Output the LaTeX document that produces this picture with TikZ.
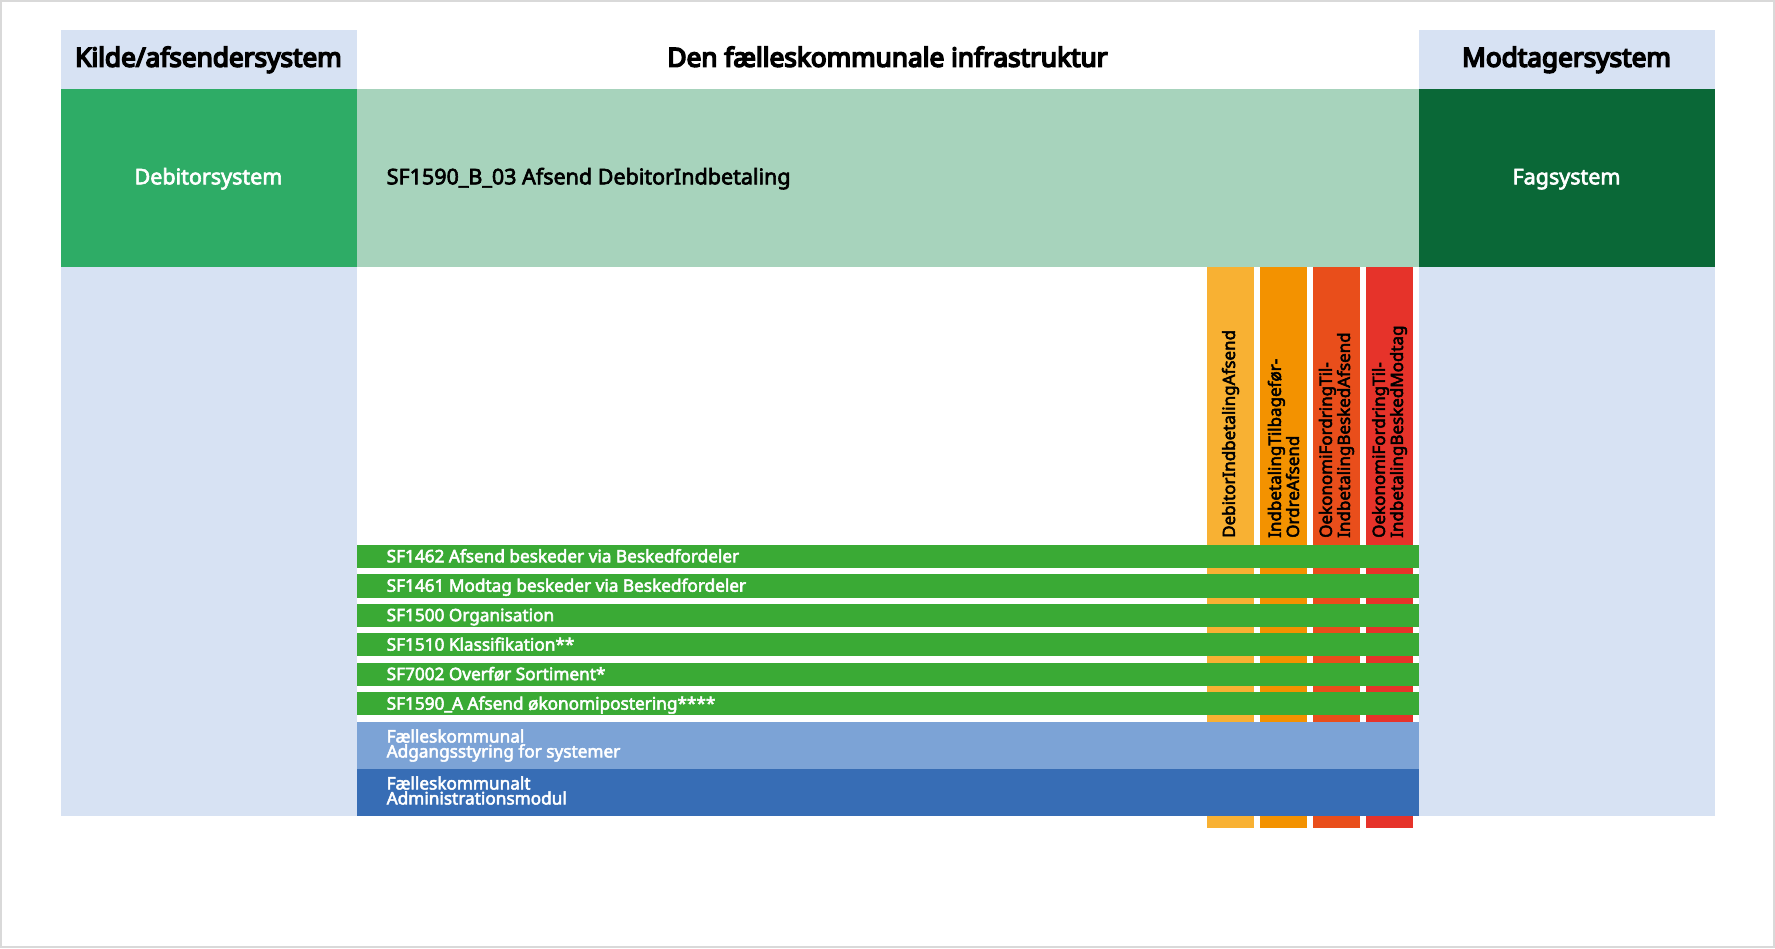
\documentclass[tikz,border=0pt]{standalone}
\usepackage{fontspec}
\setmainfont{Noto Sans}
\newfontfamily\medfont[FakeBold=3]{Noto Sans}
\newfontfamily\boldfont[FakeBold=6]{Noto Sans}
\usetikzlibrary{calc}
\definecolor{hdr}{HTML}{D7E2F3}
\definecolor{srcgreen}{HTML}{2EAC66}
\definecolor{lightgreen}{HTML}{A7D3BC}
\definecolor{darkgreen}{HTML}{0A6837}
\definecolor{vbA}{HTML}{F8B133}
\definecolor{vbB}{HTML}{F39200}
\definecolor{vbC}{HTML}{E94E1B}
\definecolor{vbD}{HTML}{E6332A}
\definecolor{sfgreen}{HTML}{3AAA35}
\definecolor{lblue}{HTML}{7CA3D6}
\definecolor{dblue}{HTML}{376DB5}
\definecolor{frame}{HTML}{D9D9D9}
\begin{document}
\begin{tikzpicture}[x=1pt,y=-1pt,
  box/.style 2 args={inner sep=0pt, outer sep=0pt, anchor=north west, draw=none, minimum width=#1, minimum height=#2},
  title/.style={inner sep=0pt, anchor=base, font=\fontsize{26.2}{30}\boldfont},
  sysname/.style={inner sep=0pt, anchor=base, text=white, font=\fontsize{21.5}{25}\medfont},
  bartext/.style={inner sep=0pt, anchor=base west, text=white, font=\fontsize{17.2}{20}\medfont},
  bluetext/.style={inner sep=0pt, anchor=west, text=white, align=left, font=\fontsize{17.2}{15}\medfont},
  vtext/.style={inner sep=0pt, anchor=west, rotate=90, align=left, font=\fontsize{17}{15}\medfont}
]
\useasboundingbox (0,0) rectangle (1775,948);
\fill[white] (0,0) rectangle (1775,948);
\draw[frame, line width=2pt] (1,1) rectangle (1774,947);

% header row
\node[box={295.5}{59}, fill=hdr] (lhead) at (61,30) {};
\node[box={295.5}{59}, fill=hdr] (rhead) at (1419,30) {};
\node[title] (tl) at (208.5,66.7) {Kilde/afsendersystem};
\node[title] (tm) at (887.5,66.7) {Den fælleskommunale infrastruktur};
\node[title] (tr) at (1566.5,66.7) {Modtagersystem};

% system row
\node[box={295.5}{178}, fill=srcgreen] (src) at (61,89) {};
\node[box={1062.5}{178}, fill=lightgreen] (svc) at (356.5,89) {};
\node[box={295.5}{178}, fill=darkgreen] (dst) at (1419,89) {};
\node[sysname] (srct) at (208.5,184.3) {Debitorsystem};
\node[sysname] (dstt) at (1566.5,184.3) {Fagsystem};
\node[sysname, anchor=base west, text=black] (svct) at (386.5,184.3) {SF1590\_B\_03 Afsend DebitorIndbetaling};

% lower columns
\node[box={295.5}{549}, fill=hdr] (lcol) at (61,267) {};
\node[box={295.5}{549}, fill=hdr] (rcol) at (1419,267) {};

% vertical bars
\node[box={47}{561}, fill=vbA] (v1) at (1207,267) {};
\node[box={47}{561}, fill=vbB] (v2) at (1260,267) {};
\node[box={47}{561}, fill=vbC] (v3) at (1313,267) {};
\node[box={47}{561}, fill=vbD] (v4) at (1366,267) {};

% green bars
\foreach \i/\y/\t in {1/544.8/{SF1462 Afsend beskeder via Beskedfordeler},
                      2/574.2/{SF1461 Modtag beskeder via Beskedfordeler},
                      3/603.7/{SF1500 Organisation},
                      4/633.1/{SF1510 Klassifikation**},
                      5/662.6/{SF7002 Overfør Sortiment*},
                      6/692.1/{SF1590\_A Afsend økonomipostering****}}{
  \node[box={1062.5}{23.3}, fill=sfgreen] (g\i) at (356.5,\y) {};
  \node[bartext] (g\i t) at ($(g\i.north west)+(30,17.5)$) {\t};
}

% blue bars
\node[box={1062.5}{47}, fill=lblue] (b1) at (356.5,722) {};
\node[box={1062.5}{47}, fill=dblue] (b2) at (356.5,769) {};
\node[bluetext] (b1t) at ($(b1.west)+(30,0)$) {Fælleskommunal\\Adgangsstyring for systemer};
\node[bluetext] (b2t) at ($(b2.west)+(30,-2)$) {Fælleskommunalt\\Administrationsmodul};

% vertical labels
\node[vtext] (v1t) at (1230.5,538) {DebitorIndbetalingAfsend};
\node[vtext] (v2t) at (1283.5,538) {IndbetalingTilbagefør-\\OrdreAfsend};
\node[vtext] (v3t) at (1336.5,538) {OekonomiFordringTil-\\IndbetalingBeskedAfsend};
\node[vtext] (v4t) at (1389.5,538) {OekonomiFordringTil-\\IndbetalingBeskedModtag};
\end{tikzpicture}
\end{document}
